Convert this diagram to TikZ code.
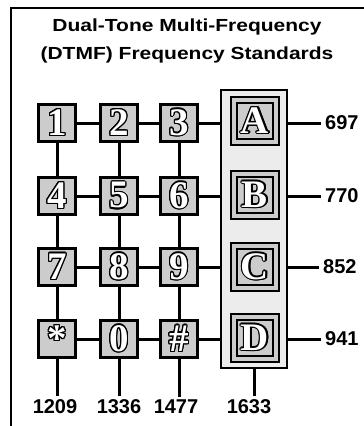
\documentclass[tikz,border=0pt]{standalone}
\usepackage{fontspec}
\setmainfont{Liberation Sans}
\newfontfamily\titlefont[FakeStretch=1.2]{Liberation Sans}
\newfontfamily\keyfont{Liberation Serif}
\usepackage{contour}
\contourlength{1.2pt}
\newcommand\keyface[1]{\contour{black}{\textcolor{white}{#1}}}
\usetikzlibrary{positioning}

\begin{document}
\begin{tikzpicture}[x=1pt,y=-1pt,
    every node/.style={font=\fontsize{20}{22}\selectfont\bfseries},
    key/.style={draw,line width=2.5pt,fill=gray!40,minimum size=37pt,
                inner sep=0pt,font=\fontsize{39}{39}\selectfont\keyfont\bfseries},
    bigkey/.style={key,minimum size=42pt,line width=2pt,
                   double=gray!40,double distance=4pt},
    wire/.style={line width=3pt},
    freq/.style={anchor=west,inner sep=4pt}]
  \useasboundingbox (0,0) rectangle (364,426);
  \draw[line width=1.5pt] (11,426) -- (11,8) -- (364,8);
  \node[font=\fontsize{17.5}{28}\selectfont\titlefont\bfseries,align=center]
        (title) at (187,41) {Dual-Tone Multi-Frequency\\(DTMF) Frequency Standards};
  % column of A..D keys
  \node[draw,line width=1.5pt,fill=gray!15,minimum width=66pt,
        minimum height=278pt] (panel) at (254,229) {};
  \node[bigkey] (kA) at (255,121) {\keyface{A}};
  \node[bigkey] (kB) at (255,195) {\keyface{B}};
  \node[bigkey] (kC) at (255,267) {\keyface{C}};
  \node[bigkey] (kD) at (255,338) {\keyface{D}};
  % keypad
  \node[key] (k1) at (57,123) {\keyface{1}};
  \node[key] (k2) at (119,123) {\keyface{2}};
  \node[key] (k3) at (179,123) {\keyface{3}};
  \node[key] (k4) at (57,196) {\keyface{4}};
  \node[key] (k5) at (119,196) {\keyface{5}};
  \node[key] (k6) at (179,196) {\keyface{6}};
  \node[key] (k7) at (57,267) {\keyface{7}};
  \node[key] (k8) at (119,267) {\keyface{8}};
  \node[key] (k9) at (179,267) {\keyface{9}};
  \node[key] (kstar) at (57,339) {\raisebox{-0.3em}{\keyface{*}}};
  \node[key] (k0) at (119,339) {\keyface{0}};
  \node[key] (khash) at (179,339) {\keyface{\#}};
  % frequencies
  \node[freq] (f697) at (321,123) {697};
  \node[freq] (f770) at (321,196) {770};
  \node[freq] (f852) at (319,267) {852};
  \node[freq] (f941) at (321,339) {941};
  \node (c1209) at (55,407) {1209};
  \node (c1336) at (119,407) {1336};
  \node (c1477) at (176,407) {1477};
  \node (c1633) at (249,407) {1633};
  % rows
  \draw[wire] (k1) -- (k2) -- (k3) -- (k3 -| panel.west);
  \draw[wire] (k4) -- (k5) -- (k6) -- (k6 -| panel.west);
  \draw[wire] (k7) -- (k8) -- (k9) -- (k9 -| panel.west);
  \draw[wire] (kstar) -- (k0) -- (khash) -- (khash -| panel.west);
  \draw[wire] (panel.east |- k1) -- (f697.west);
  \draw[wire] (panel.east |- k4) -- (f770.west);
  \draw[wire] (panel.east |- k7) -- (f852.west);
  \draw[wire] (panel.east |- kstar) -- (f941.west);
  % columns
  \draw[wire] (k1) -- (k4) -- (k7) -- (kstar) -- (kstar |- c1209.north);
  \draw[wire] (k2) -- (k5) -- (k8) -- (k0) -- (k0 |- c1336.north);
  \draw[wire] (k3) -- (k6) -- (k9) -- (khash) -- (khash |- c1477.north);
  \draw[wire] (panel.south) -- (panel.south |- c1633.north);
\end{tikzpicture}
\end{document}
